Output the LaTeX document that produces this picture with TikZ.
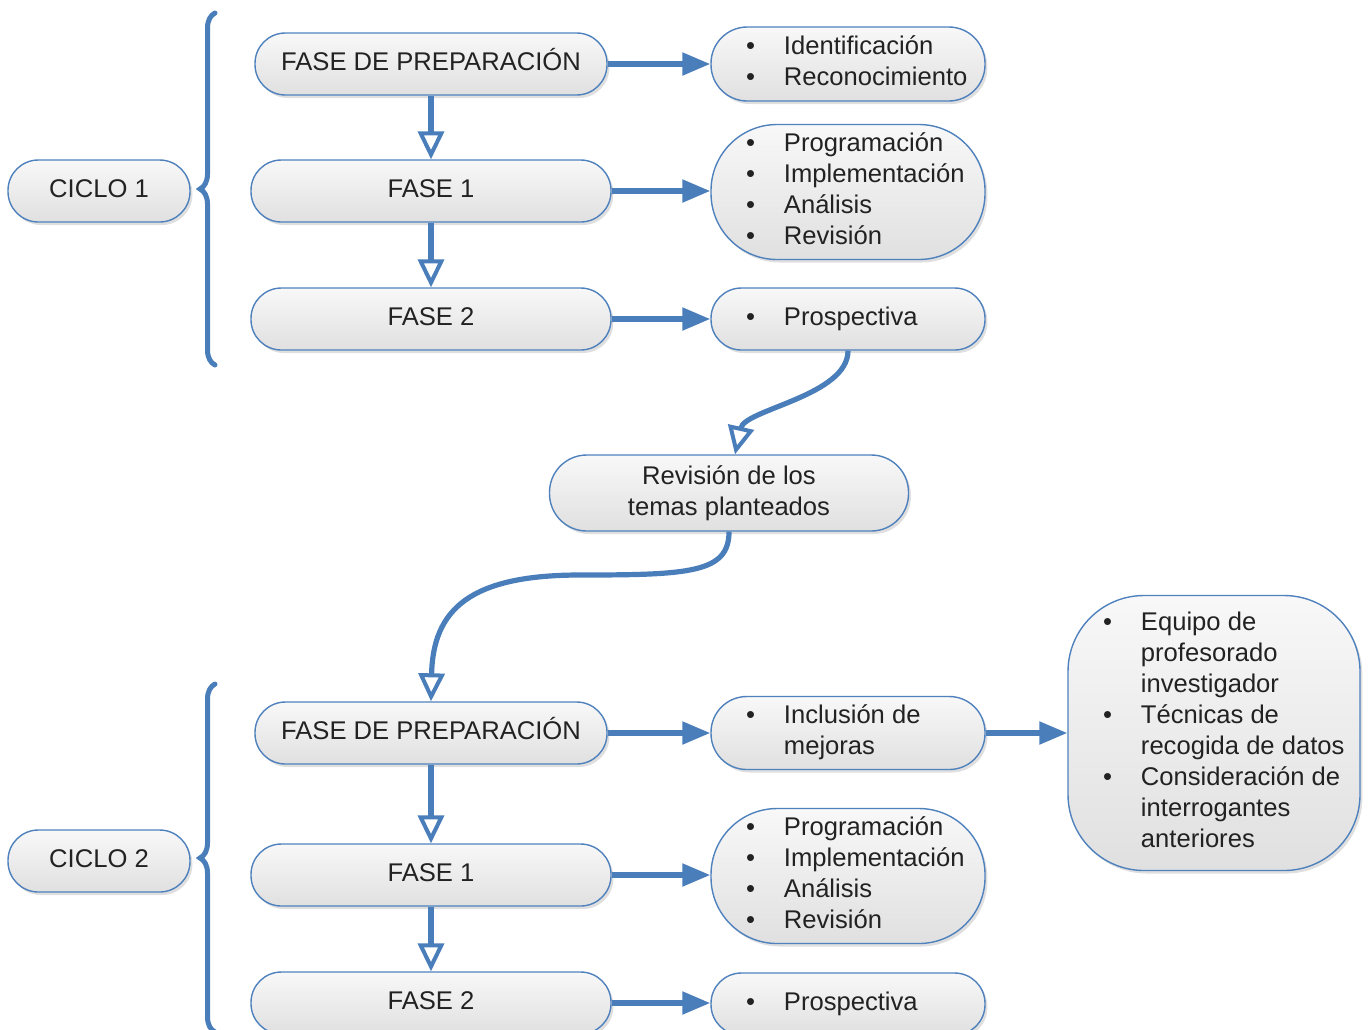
\documentclass[tikz,border=0pt]{standalone}
\usepackage{fontspec}
\setmainfont{Liberation Sans}
\usetikzlibrary{arrows.meta,shadows,decorations.pathreplacing}

\definecolor{borde}{HTML}{4F81BD}
\definecolor{linea}{HTML}{4A7EBB}
\definecolor{claro}{HTML}{F8F8F8}
\definecolor{oscuro}{HTML}{E0E0E0}
\definecolor{texto}{HTML}{222222}

% bullet list inside a box of given width
\newcommand{\blist}[2]{\makebox[#1][l]{\hspace{17.5pt}\begin{tabular}{@{}l@{\hspace{14.5pt}}l@{}}#2\end{tabular}}}

\tikzset{
  caja/.style={draw=borde, line width=0.7pt, top color=claro, bottom color=oscuro, text=texto,
    font=\fontsize{12.8}{15.5}\selectfont, inner xsep=0pt, inner ysep=1pt,
    drop shadow={shadow xshift=1.2pt, shadow yshift=-1.5pt, opacity=0.25}},
  pill/.style={caja, rectangle, rounded corners=0.49*#1, minimum height=#1},
  fase/.style={pill=31pt, minimum width=#1, text height=9.2pt, text depth=2.6pt},
  grande/.style={caja, rectangle, rounded corners=38pt, minimum width=146pt, minimum height=137.5pt},
  flecha/.style={draw=linea, line width=2.6pt, -{Triangle[length=14pt,width=11pt]}},
  flechab/.style={draw=linea, line width=2.6pt, -{Triangle[open,fill=white,length=14pt,width=13pt,line width=2pt]}},
  llave/.style={draw=linea, line width=2.5pt, line cap=round, decorate, decoration={brace,amplitude=7.5pt}}
}

\begin{document}
\begin{tikzpicture}[x=0.5pt,y=-0.5pt]
\useasboundingbox (0,0) rectangle (1368,1029);
\clip (0,0) rectangle (1368,1029);

% ciclo 1
\node[fase=91pt] (ciclo1) at (99,191) {CICLO 1};
\draw[llave] (215,365) -- (215,13);
\node[fase=176pt] (prepA) at (431,64) {FASE DE PREPARACIÓN};
\node[fase=180pt] (faseA1) at (431,191) {FASE 1};
\node[fase=180pt] (faseA2) at (431,319) {FASE 2};
\node[pill=37pt, minimum width=137pt] (idA) at (848,64) {\blist{137pt}{\textbullet & Identificación\\ \textbullet & Reconocimiento}};
\node[pill=67.5pt, minimum width=137pt] (progA) at (848,192) {\blist{137pt}{\textbullet & Programación\\ \textbullet & Implementación\\ \textbullet & Análisis\\ \textbullet & Revisión}};
\node[pill=31pt, minimum width=137pt] (prosA) at (848,319) {\blist{137pt}{\textbullet & Prospectiva}};
\draw[flechab] (prepA) -- (faseA1);
\draw[flechab] (faseA1) -- (faseA2);
\draw[flecha] (prepA) -- (idA);
\draw[flecha] (faseA1.east) -- (faseA1.east -| progA.west);
\draw[flecha] (faseA2) -- (prosA);

% revision
\node[pill=38pt, minimum width=179.5pt, align=center] (rev) at (729,493) {Revisión de los\\temas planteados};
\draw[flechab] (prosA.south) .. controls +(0,45) and +(10,-45) .. ([xshift=3pt]rev.north);

% ciclo 2
\node[fase=91pt] (ciclo2) at (99,861) {CICLO 2};
\draw[llave] (215,1032) -- (215,684);
\node[fase=176pt] (prepB) at (431,733) {FASE DE PREPARACIÓN};
\node[fase=180pt] (faseB1) at (431,875) {FASE 1};
\node[fase=180pt] (faseB2) at (431,1003) {FASE 2};
\node[pill=36.5pt, minimum width=137pt] (incB) at (848,733) {\blist{137pt}{\textbullet & Inclusión de\\ & mejoras}};
\node[pill=67.5pt, minimum width=137pt] (progB) at (848,876) {\blist{137pt}{\textbullet & Programación\\ \textbullet & Implementación\\ \textbullet & Análisis\\ \textbullet & Revisión}};
\node[pill=31pt, minimum width=137pt] (prosB) at (848,1004) {\blist{137pt}{\textbullet & Prospectiva}};
\node[grande] (equipo) at (1214,733) {\blist{146pt}{\textbullet & Equipo de\\ & profesorado\\ & investigador\\ \textbullet & Técnicas de\\ & recogida de datos\\ \textbullet & Consideración de\\ & interrogantes\\ & anteriores}};
\draw[flechab] (rev.south) .. controls +(0,41) and +(110,0) .. (580,575) .. controls +(-110,0) and +(2,-92) .. (prepB.north);
\draw[flechab] (prepB) -- (faseB1);
\draw[flechab] (faseB1) -- (faseB2);
\draw[flecha] (prepB) -- (incB);
\draw[flecha] (faseB1.east) -- (faseB1.east -| progB.west);
\draw[flecha] (faseB2.east) -- (faseB2.east -| prosB.west);
\draw[flecha] (incB) -- (equipo);
\end{tikzpicture}
\end{document}
